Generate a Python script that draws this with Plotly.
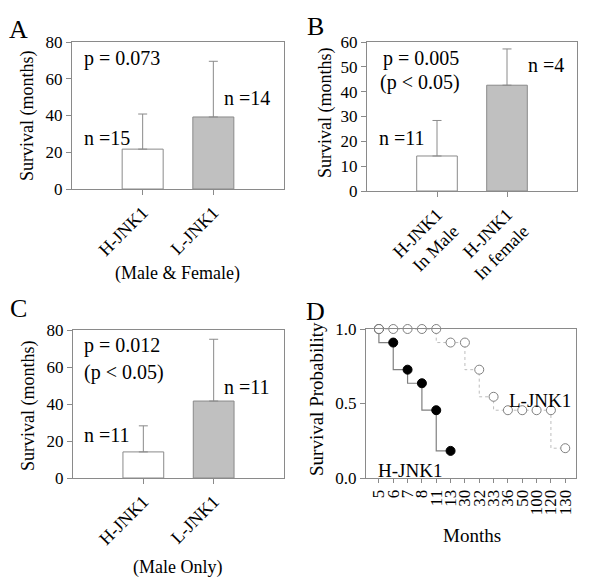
import plotly.graph_objects as go

# ---------------- data ----------------
cats_a = ["H-JNK1", "L-JNK1"]
mean_a = [21.7, 39.2]
sd_a = [19.1, 30.3]
n_a = ["n =15", "n =14"]
p_a = "p = 0.073"

cats_b = ["H-JNK1<br>In Male", "H-JNK1<br>In female"]
mean_b = [14.1, 42.6]
sd_b = [14.3, 14.6]
n_b = ["n =11", "n =4"]
p_b = ["p = 0.005", "(p < 0.05)"]

cats_c = ["H-JNK1", "L-JNK1"]
mean_c = [14.1, 41.6]
sd_c = [14.1, 33.4]
n_c = ["n =11", "n =11"]
p_c = ["p = 0.012", "(p < 0.05)"]

months = ["5", "6", "7", "8", "11", "13", "30", "32", "33", "36", "50", "100", "120", "130"]
h_months = ["5", "6", "7", "8", "11", "13"]
h_surv = [1.0, 0.909, 0.727, 0.636, 0.455, 0.182]
l_months = ["5", "6", "7", "8", "11", "13", "30", "32", "33", "36", "50", "100", "120", "130"]
l_surv = [1.0, 1.0, 1.0, 1.0, 1.0, 0.909, 0.909, 0.727, 0.545, 0.455, 0.455, 0.455, 0.455, 0.2]

# ---------------- styling ----------------
W, H = 600, 581
FONT = "Liberation Serif"
AX = "#8a8a8a"
BAR_FILL = ["white", "#c0c0c0"]


def px(x):
    return x / W


def py(y):
    return 1 - y / H


fig = go.Figure()


def add_bars(cats, means, sds, xa, ya):
    fig.add_trace(go.Bar(
        x=cats, y=means, width=0.58,
        marker=dict(color=BAR_FILL, line=dict(color=AX, width=1)),
        error_y=dict(type="data", array=sds, arrayminus=[0] * len(sds),
                     symmetric=False, color=AX, thickness=1, width=4.5),
        xaxis=xa, yaxis=ya, showlegend=False))


add_bars(cats_a, mean_a, sd_a, "x", "y")
add_bars(cats_b, mean_b, sd_b, "x2", "y2")
add_bars(cats_c, mean_c, sd_c, "x3", "y3")

# Kaplan-Meier panel
fig.add_trace(go.Scatter(
    x=h_months, y=h_surv, mode="lines+markers", line=dict(shape="vh", color="#808080", width=1.2),
    marker=dict(size=9, color="black", line=dict(color="black", width=1)),
    xaxis="x4", yaxis="y4", showlegend=False, cliponaxis=False))
fig.add_trace(go.Scatter(
    x=l_months, y=l_surv, mode="lines+markers",
    line=dict(shape="vh", color="#bdbdbd", width=1, dash="dot"),
    marker=dict(size=9, color="white", line=dict(color="#808080", width=1)),
    xaxis="x4", yaxis="y4", showlegend=False, cliponaxis=False))


def ax(size=17, **kw):
    d = dict(showgrid=False, zeroline=False, showline=True, linecolor=AX, linewidth=1,
             mirror=True, ticks="outside", ticklen=5, tickcolor=AX, automargin=False,
             tickfont=dict(family=FONT, size=size, color="black"))
    d.update(kw)
    return d


fig.update_layout(
    template="none",
    width=W, height=H, margin=dict(l=0, r=0, t=0, b=0, pad=0, autoexpand=False),
    paper_bgcolor="white", plot_bgcolor="white",
    font=dict(family=FONT, color="black"),
    xaxis=ax(18, domain=[px(72), px(284)], anchor="y", range=[-1, 2], tickangle=-45),
    yaxis=ax(17, domain=[py(189), py(42)], anchor="x", range=[0, 80], dtick=20),
    xaxis2=ax(18, domain=[px(367), px(577)], anchor="y2", range=[-1, 2], tickangle=-45),
    yaxis2=ax(17, domain=[py(191), py(42)], anchor="x2", range=[0, 60], dtick=10),
    xaxis3=ax(18, domain=[px(73), px(284)], anchor="y3", range=[-1, 2], tickangle=-45),
    yaxis3=ax(17, domain=[py(478), py(330)], anchor="x3", range=[0, 80], dtick=20),
    xaxis4=ax(17, domain=[px(366), px(576)], anchor="y4", type="category", range=[-0.9, 13.75],
              tickmode="array", tickvals=months, ticktext=months, tickangle=-90, ticklen=4,
              categoryorder="array", categoryarray=months),
    yaxis4=ax(17, domain=[py(478), py(329)], anchor="x4", range=[0, 1.0], dtick=0.5,
              tickformat=".1f"),
)

ann = []


def text(x, y, s, size=20, xanchor="left", angle=0):
    ann.append(dict(x=px(x), y=py(y), xref="paper", yref="paper", text=s, showarrow=False,
                    xanchor=xanchor, yanchor="middle", textangle=angle,
                    font=dict(family=FONT, size=size, color="black")))


# panel letters
text(18, 29, "A", 26, "center")
text(315, 27, "B", 26, "center")
text(18, 308, "C", 26, "center")
text(316, 311, "D", 26, "center")

# y titles
text(28, 116, "Survival (months)", 18, "center", -90)
text(325, 113, "Survival (months)", 18, "center", -90)
text(28, 406, "Survival (months)", 18, "center", -90)
text(316, 399, "Survival Probability", 19, "center", -90)

# panel A
text(82, 58, p_a)
text(82, 138, n_a[0])
text(222, 98, n_a[1])
text(177, 273, "(Male &amp; Female)", 18, "center")

# panel B
text(381, 58, p_b[0])
text(378, 83, p_b[1])
text(377, 138, n_b[0])
text(526, 65, n_b[1])

# panel C
text(82, 345, p_c[0])
text(82, 372, p_c[1])
text(82, 435, n_c[0])
text(222, 387, n_c[1])
text(177, 567, "(Male Only)", 18, "center")

# panel D
text(540, 400, "L-JNK1", 19, "center")
text(410, 470, "H-JNK1", 19, "center")
text(472, 535, "Months", 19, "center")

fig.update_layout(annotations=ann)
fig.write_html("out.html", config={"displayModeBar": False},
               post_script="document.body.style.margin='0';")
